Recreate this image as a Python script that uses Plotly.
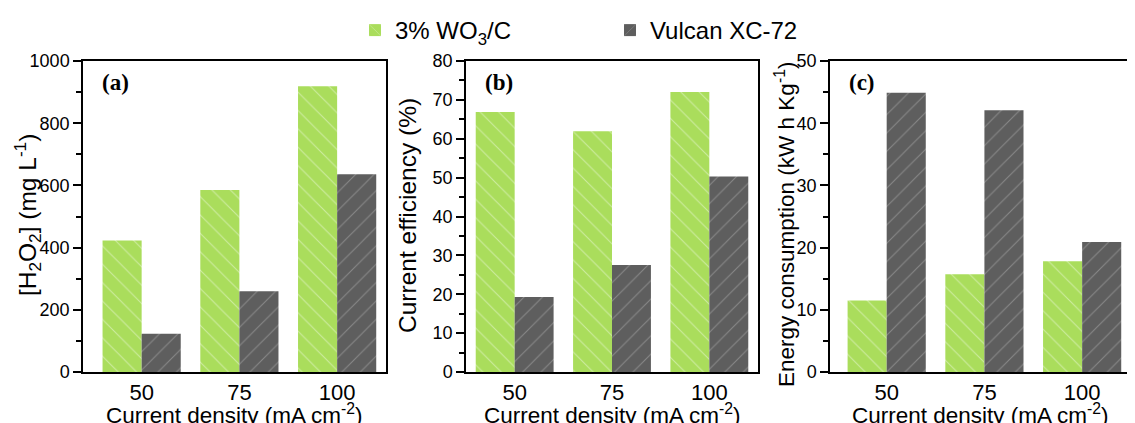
import plotly.graph_objects as go

categories = ["50", "75", "100"]
h2o2_wo3 = [423, 585, 919]
h2o2_vulcan = [123, 260, 636]
eff_wo3 = [66.9, 61.9, 72.0]
eff_vulcan = [19.3, 27.5, 50.3]
energy_wo3 = [11.5, 15.7, 17.8]
energy_vulcan = [44.9, 42.1, 20.9]
series_names = ["3% WO<sub>3</sub>/C", "Vulcan XC-72"]
panel_labels = ["(a)", "(b)", "(c)"]
y_titles = ["[H<sub>2</sub>O<sub>2</sub>] (mg L<sup>-1</sup>)",
            "Current efficiency (%)",
            "Energy consumption (kW h Kg<sup>-1</sup>)"]
x_title = "Current density (mA cm<sup>-2</sup>)"

GREEN = "#aadd5c"
GRAY = "#5e5e5e"
FONT = "Liberation Sans, Arial, sans-serif"
OFF = 8  # page body margin
W, H = 1135 - OFF, 423 - OFF
TOP, BOT = 61 - OFF, 372 - OFF

fig = go.Figure()

# positions given in page pixels of the reference
panels = [
    (h2o2_wo3, h2o2_vulcan, [0, 1000], 200, 100, [-0.6, 2.5], [83, 386], 27, 215, 24.5),
    (eff_wo3, eff_vulcan, [0, 80], 10, 5, [-0.5, 2.5], [466, 758], 407, 216, 24.5),
    (energy_wo3, energy_vulcan, [0, 50], 10, 5, [-0.58, 2.5], [830, 1131], 785, 225, 22.5),
]

def pxx(v):
    return (v - OFF) / W

def py(v):
    return (BOT - (v - OFF)) / (BOT - TOP)

for i, (g, k, yr, dt, mdt, xr, px, tx, ty, tfs) in enumerate(panels):
    sfx = "" if i == 0 else str(i + 1)
    xa, ya = "x" + sfx, "y" + sfx
    fig.add_trace(go.Bar(
        x=categories, y=g, name=series_names[0], xaxis=xa, yaxis=ya,
        marker=dict(color=GREEN, line=dict(width=0),
                    pattern=dict(shape="\\", fgcolor="rgba(255,255,255,0.85)", size=13, solidity=0.08)),
        showlegend=(i == 0), legendgroup="g"))
    fig.add_trace(go.Bar(
        x=categories, y=k, name=series_names[1], xaxis=xa, yaxis=ya,
        marker=dict(color=GRAY, line=dict(width=0),
                    pattern=dict(shape="/", fgcolor="rgba(200,200,200,0.8)", size=13, solidity=0.08)),
        showlegend=(i == 0), legendgroup="k"))
    fig.update_layout(**{
        "xaxis" + sfx: dict(domain=[pxx(px[0]), pxx(px[1])], range=xr, type="category",
                            showline=True, linecolor="black", linewidth=1.5, mirror=True,
                            ticks="", showgrid=False, anchor=ya, automargin=False,
                            tickfont=dict(size=22, family=FONT, color="black")),
        "yaxis" + sfx: dict(domain=[0, 1], range=yr, dtick=dt, tick0=0,
                            showline=True, linecolor="black", linewidth=1.5, mirror=True,
                            ticks="outside", ticklen=8, tickwidth=1.5, tickcolor="black",
                            minor=dict(dtick=mdt, ticks="outside", ticklen=5, tickwidth=1.5, tickcolor="black"),
                            showgrid=False, zeroline=False, anchor=xa, automargin=False,
                            tickfont=dict(size=18, family=FONT, color="black")),
    })
    fig.add_annotation(text="<b>" + panel_labels[i] + "</b>", xref="paper", yref="paper",
                       x=pxx(px[0] + 17), y=py(82), xanchor="left", yanchor="middle", showarrow=False,
                       font=dict(size=23, family="Liberation Serif, Times New Roman, serif", color="black"))
    fig.add_annotation(text=x_title, xref="paper", yref="paper",
                       x=pxx((px[0] + px[1]) / 2), y=py(414), xanchor="center", yanchor="middle",
                       showarrow=False, font=dict(size=22.5, family=FONT, color="black"))
    fig.add_annotation(text=y_titles[i], xref="paper", yref="paper", textangle=-90,
                       x=pxx(tx), y=py(ty), xanchor="center", yanchor="middle",
                       showarrow=False, font=dict(size=tfs, family=FONT, color="black"))

fig.update_layout(
    width=W, height=H,
    margin=dict(l=0, r=0, t=TOP, b=H - BOT, autoexpand=False),
    paper_bgcolor="white", plot_bgcolor="white",
    barmode="group", bargap=0.2, bargroupgap=0,
    legend=dict(orientation="h", x=(355 - OFF) / W, y=1.0, xanchor="left", yanchor="top",
                yref="container", font=dict(size=24, family=FONT, color="black"),
                entrywidth=210, entrywidthmode="pixels", tracegroupgap=0, bgcolor="rgba(0,0,0,0)"),
    font=dict(family=FONT, color="black"),
)
fig.write_html("out.html")
